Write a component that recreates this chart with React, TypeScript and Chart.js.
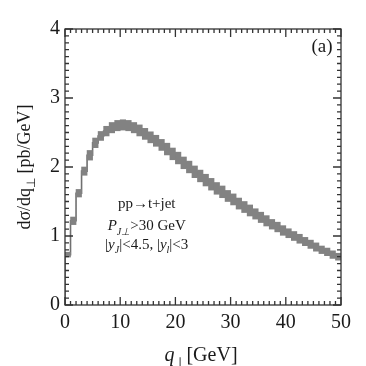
import React, { useEffect, useRef } from "react";
import { Chart, registerables } from "chart.js";

Chart.register(...registerables);

// ---- data ----
const binLow = [
  0, 1, 2, 3, 4, 5, 6, 7, 8, 9, 10, 11, 12, 13, 14, 15, 16, 17, 18, 19, 20, 21, 22, 23, 24,
  25, 26, 27, 28, 29, 30, 31, 32, 33, 34, 35, 36, 37, 38, 39, 40, 41, 42, 43, 44, 45, 46, 47, 48, 49,
];
const binWidth = 1;
const xsec = [
  0.73, 1.22, 1.62, 1.94, 2.17, 2.35, 2.45, 2.52, 2.57, 2.6, 2.61, 2.6, 2.57, 2.53, 2.48, 2.43,
  2.38, 2.32, 2.26, 2.19, 2.13, 2.06, 2.0, 1.93, 1.87, 1.81, 1.75, 1.69, 1.64, 1.58, 1.53, 1.47,
  1.42, 1.37, 1.32, 1.27, 1.22, 1.17, 1.13, 1.08, 1.04, 1.0, 0.96, 0.92, 0.88, 0.84, 0.8, 0.77,
  0.73, 0.7,
];
const bandHalf = [
  0.035, 0.055, 0.055, 0.06, 0.07, 0.07, 0.065, 0.07, 0.075, 0.075, 0.075, 0.075, 0.075, 0.08,
  0.08, 0.08, 0.08, 0.08, 0.085, 0.085, 0.085, 0.085, 0.085, 0.085, 0.085, 0.085, 0.085, 0.085,
  0.085, 0.08, 0.08, 0.08, 0.08, 0.08, 0.075, 0.075, 0.075, 0.07, 0.07, 0.07, 0.065, 0.065, 0.065,
  0.06, 0.06, 0.06, 0.055, 0.055, 0.055, 0.05,
];
const xRange = [0, 50];
const yRange = [0, 4];
const xMajorStep = 10;
const xMinorStep = 1;
const yMajorStep = 1;
const yMinorStep = 0.1;

const FONT = '"Liberation Serif", "Times New Roman", serif';

type Seg = { t: string; it?: boolean; sub?: boolean };

function drawRich(
  ctx: CanvasRenderingContext2D,
  segs: Seg[],
  cx: number,
  cy: number,
  size: number,
  rotate = false
) {
  const fontFor = (s: Seg) =>
    `${s.it ? "italic " : ""}${s.sub ? Math.round(size * 0.68) : size}px ${FONT}`;
  ctx.save();
  let total = 0;
  const widths = segs.map((s) => {
    ctx.font = fontFor(s);
    const w = ctx.measureText(s.t).width;
    total += w;
    return w;
  });
  ctx.translate(cx, cy);
  if (rotate) ctx.rotate(-Math.PI / 2);
  ctx.textBaseline = "alphabetic";
  ctx.textAlign = "left";
  ctx.fillStyle = "#1a1a1a";
  let x = -total / 2;
  segs.forEach((s, i) => {
    ctx.font = fontFor(s);
    ctx.fillText(s.t, x, s.sub ? size * 0.28 : 0);
    x += widths[i];
  });
  ctx.restore();
}

const framePlugin = {
  id: "frameTicks",
  afterDatasetsDraw(chart: any) {
    const { ctx, chartArea } = chart;
    const { left, right, top, bottom } = chartArea;
    const xs = chart.scales.x;
    const ys = chart.scales.y;
    ctx.save();
    ctx.strokeStyle = "#333";
    ctx.lineWidth = 1.3;
    ctx.strokeRect(left, top, right - left, bottom - top);
    ctx.beginPath();
    const nx = Math.round((xRange[1] - xRange[0]) / xMinorStep);
    for (let k = 0; k <= nx; k++) {
      const v = xRange[0] + k * xMinorStep;
      const px = xs.getPixelForValue(v);
      const major = Math.abs(v / xMajorStep - Math.round(v / xMajorStep)) < 1e-6;
      const len = major ? 8 : 4;
      ctx.moveTo(px, bottom);
      ctx.lineTo(px, bottom - len);
      ctx.moveTo(px, top);
      ctx.lineTo(px, top + len);
    }
    const ny = Math.round((yRange[1] - yRange[0]) / yMinorStep);
    for (let k = 0; k <= ny; k++) {
      const v = yRange[0] + k * yMinorStep;
      const py = ys.getPixelForValue(v);
      const major = Math.abs(v / yMajorStep - Math.round(v / yMajorStep)) < 1e-6;
      const len = major ? 8 : 4;
      ctx.moveTo(left, py);
      ctx.lineTo(left + len, py);
      ctx.moveTo(right, py);
      ctx.lineTo(right - len, py);
    }
    ctx.stroke();
    ctx.restore();

    // panel label
    drawRich(ctx, [{ t: "(a)" }], right - 19, top + 23, 19);

    // annotation block
    const ax = xs.getPixelForValue(14.8);
    drawRich(ctx, [{ t: "pp→t+jet" }], ax, ys.getPixelForValue(1.4), 15);
    drawRich(
      ctx,
      [{ t: "P", it: true }, { t: "J⊥", it: true, sub: true }, { t: ">30 GeV" }],
      ax,
      ys.getPixelForValue(1.08),
      15
    );
    drawRich(
      ctx,
      [
        { t: "|" },
        { t: "y", it: true },
        { t: "J", it: true, sub: true },
        { t: "|<4.5, |" },
        { t: "y", it: true },
        { t: "l", it: true, sub: true },
        { t: "|<3" },
      ],
      ax,
      ys.getPixelForValue(0.81),
      15
    );

    // axis titles
    drawRich(
      ctx,
      [{ t: "q", it: true }, { t: "⊥", sub: true }, { t: "[GeV]" }],
      (left + right) / 2 - 2,
      361,
      20
    );
    drawRich(
      ctx,
      [{ t: "dσ/dq" }, { t: "⊥", sub: true }, { t: " [pb/GeV]" }],
      30,
      167,
      18,
      true
    );
  },
};

export default function App() {
  const ref = useRef<HTMLCanvasElement | null>(null);

  useEffect(() => {
    document.body.style.margin = "0";
    const canvas = ref.current;
    if (!canvas) return;

    const bandData = binLow.map((lo, i) => ({
      x: lo + binWidth / 2,
      y: [xsec[i] - bandHalf[i], xsec[i] + bandHalf[i]],
    }));
    const stepData = [{ x: binLow[0], y: 0 }]
      .concat(binLow.map((lo, i) => ({ x: lo, y: xsec[i] })))
      .concat([{ x: binLow[binLow.length - 1] + binWidth, y: xsec[xsec.length - 1] }]);

    const tickFont = { family: FONT, size: 20 };

    const chart = new Chart(canvas, {
      type: "bar",
      data: {
        datasets: [
          {
            type: "bar",
            data: bandData as any,
            backgroundColor: "#828282",
            borderWidth: 0,
            barPercentage: 1,
            categoryPercentage: 1,
            order: 1,
          } as any,
          {
            type: "line",
            data: stepData as any,
            stepped: "before",
            borderColor: "#707070",
            borderWidth: 1.6,
            pointRadius: 0,
            fill: false,
            order: 2,
          } as any,
        ],
      },
      options: {
        animation: false,
        responsive: true,
        maintainAspectRatio: false,
        layout: { padding: { top: 29, right: 25, left: 0, bottom: 0 } },
        plugins: { legend: { display: false }, tooltip: { enabled: false }, title: { display: false } },
        scales: {
          x: {
            type: "linear",
            min: xRange[0],
            max: xRange[1],
            offset: false,
            grid: { display: true, drawOnChartArea: false, drawTicks: false, color: "rgba(0,0,0,0)", offset: false },
            border: { display: false },
            ticks: { stepSize: xMajorStep, autoSkip: false, maxRotation: 0, font: tickFont, color: "#1a1a1a", padding: 6 },
            afterFit: (s: any) => {
              s.height = 61;
            },
          },
          y: {
            type: "linear",
            min: yRange[0],
            max: yRange[1],
            grid: { display: true, drawOnChartArea: false, drawTicks: false, color: "rgba(0,0,0,0)" },
            border: { display: false },
            ticks: { stepSize: yMajorStep, autoSkip: false, font: tickFont, color: "#1a1a1a", padding: 5 },
            afterFit: (s: any) => {
              s.width = 65;
            },
          },
        },
      } as any,
      plugins: [framePlugin],
    });

    return () => chart.destroy();
  }, []);

  return (
    <div style={{ width: 366, height: 366, position: "relative" }}>
      <canvas ref={ref} />
    </div>
  );
}
